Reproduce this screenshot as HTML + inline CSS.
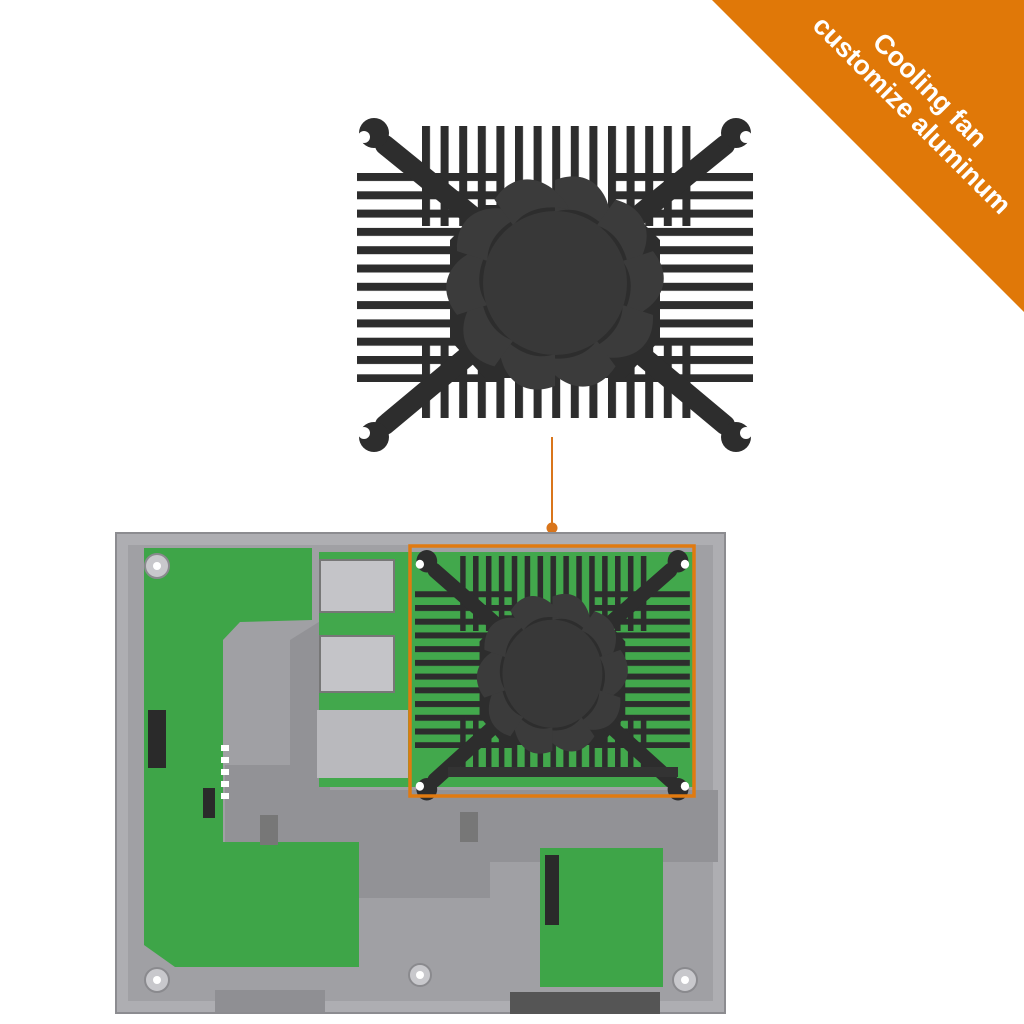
<!DOCTYPE html>
<html><head><meta charset="utf-8"><style>
html,body{margin:0;padding:0;background:#fff;width:1024px;height:1024px;overflow:hidden}
.ban{position:absolute;left:0;top:0;width:1024px;height:1024px;pointer-events:none}
.t{position:absolute;font-family:"Liberation Sans",sans-serif;font-weight:bold;color:#fff;white-space:nowrap;transform-origin:center;transform:rotate(45deg);text-align:center}
</style></head><body>
<svg width="1024" height="1024" viewBox="0 0 1024 1024" xmlns="http://www.w3.org/2000/svg" style="position:absolute;left:0;top:0">
<defs>
<pattern id="ph" patternUnits="userSpaceOnUse" x="0" y="173" width="2000" height="18.3"><rect x="0" y="0" width="2000" height="8" fill="#2d2d2d"/></pattern>
<pattern id="pv" patternUnits="userSpaceOnUse" x="422" y="0" width="18.6" height="2000"><rect x="0" y="0" width="8" height="2000" fill="#2d2d2d"/></pattern>
<g id="hs">
 <rect x="357" y="170" width="140" height="212" fill="url(#ph)"/>
 <rect x="613" y="170" width="140" height="212" fill="url(#ph)"/>
 <rect x="422" y="126" width="270" height="100" fill="url(#pv)"/>
 <rect x="422" y="340" width="270" height="78" fill="url(#pv)"/>
 <polygon points="485,205 625,205 660,240 660,340 625,378 485,378 450,340 450,240" fill="#2d2d2d"/>
 <g stroke="#2d2d2d" stroke-width="20" stroke-linecap="round">
  <line x1="555" y1="283" x2="385" y2="145"/><line x1="555" y1="283" x2="725" y2="145"/>
  <line x1="555" y1="283" x2="385" y2="425"/><line x1="555" y1="283" x2="725" y2="425"/>
 </g>
 <g fill="#2d2d2d"><circle cx="374" cy="133" r="15"/><circle cx="736" cy="133" r="15"/><circle cx="374" cy="437" r="15"/><circle cx="736" cy="437" r="15"/></g>
 <g fill="#fff"><circle cx="364" cy="137" r="6"/><circle cx="746" cy="137" r="6"/><circle cx="364" cy="433" r="6"/><circle cx="746" cy="433" r="6"/></g>
 <g fill="#3b3b3b">
  <path id="bl" d="M555,180 C595,165 615,200 610,232 C595,215 575,205 555,212 Z"/>
  <use href="#bl" transform="rotate(36 555 283)"/><use href="#bl" transform="rotate(72 555 283)"/>
  <use href="#bl" transform="rotate(108 555 283)"/><use href="#bl" transform="rotate(144 555 283)"/>
  <use href="#bl" transform="rotate(180 555 283)"/><use href="#bl" transform="rotate(216 555 283)"/>
  <use href="#bl" transform="rotate(252 555 283)"/><use href="#bl" transform="rotate(288 555 283)"/>
  <use href="#bl" transform="rotate(324 555 283)"/>
 </g>
 <circle cx="555" cy="283" r="72" fill="#383838"/>
</g>
</defs>
<polygon points="712,0 1024,0 1024,312" fill="#e07808"/>
<use href="#hs"/>
<line x1="552" y1="437" x2="552" y2="528" stroke="#d9751b" stroke-width="2"/>
<circle cx="552" cy="528" r="5.5" fill="#d9751b"/>
<rect x="116" y="533" width="609" height="480" fill="#aeaeb2" stroke="#8c8c90" stroke-width="2"/>
<rect x="128" y="545" width="585" height="456" fill="#a0a0a4"/>
<polygon points="225,765 290,765 290,640 330,615 330,790 718,790 718,862 490,862 490,898 225,898" fill="#929296"/>
<rect x="215" y="990" width="110" height="22" fill="#8f8f93"/>
<rect x="510" y="992" width="150" height="22" fill="#555"/>
<polygon points="144,548 312,548 312,620 240,622 223,640 223,842 359,842 359,967 175,967 144,945" fill="#3ea548"/>
<rect x="148" y="710" width="18" height="58" fill="#2a2a2a"/>
<rect x="203" y="788" width="12" height="30" fill="#2a2a2a"/>
<g fill="#fff"><rect x="221" y="745" width="8" height="6"/><rect x="221" y="757" width="8" height="6"/><rect x="221" y="769" width="8" height="6"/><rect x="221" y="781" width="8" height="6"/><rect x="221" y="793" width="8" height="6"/></g>
<rect x="319" y="552" width="376" height="235" fill="#42a84c"/>
<rect x="320" y="560" width="74" height="52" fill="#c4c4c8" stroke="#777" stroke-width="2"/>
<rect x="320" y="636" width="74" height="56" fill="#c4c4c8" stroke="#777" stroke-width="2"/>
<rect x="317" y="710" width="91" height="68" fill="#b9b9bd"/>
<use href="#hs" transform="translate(415 550) scale(0.694 0.75) translate(-357 -118)"/>
<rect x="448" y="767" width="230" height="10" fill="#333"/>
<rect x="410" y="546" width="284" height="250" fill="none" stroke="#e07a10" stroke-width="3.5"/>
<rect x="540" y="848" width="123" height="139" fill="#3ea548"/>
<rect x="545" y="855" width="14" height="70" fill="#2a2a2a"/>
<g fill="#c8c8cc" stroke="#8a8a8e" stroke-width="2"><circle cx="157" cy="566" r="12"/><circle cx="157" cy="980" r="12"/><circle cx="685" cy="980" r="12"/><circle cx="420" cy="975" r="11"/></g>
<g fill="#fff"><circle cx="157" cy="566" r="4"/><circle cx="157" cy="980" r="4"/><circle cx="685" cy="980" r="4"/><circle cx="420" cy="975" r="4"/></g>
<rect x="460" y="812" width="18" height="30" fill="#777"/><rect x="260" y="815" width="18" height="30" fill="#777"/>
</svg>
<div class="ban">
 <div class="t" style="left:800px;top:75px;width:260px;font-size:27px;line-height:30px">Cooling fan</div>
 <div class="t" style="left:752px;top:100px;width:320px;font-size:27px;line-height:30px">customize aluminum</div>
</div>
</body></html>
